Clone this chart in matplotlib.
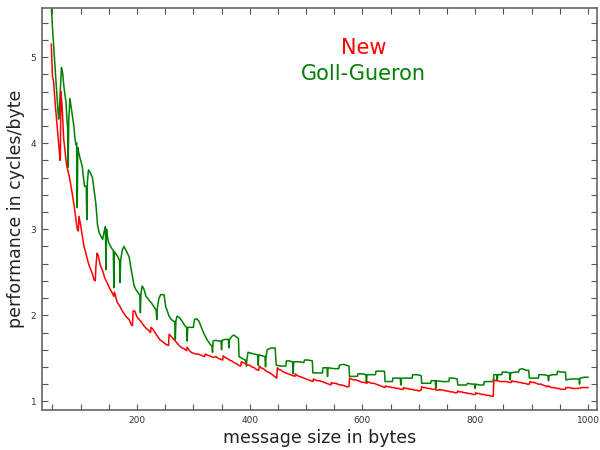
import matplotlib
matplotlib.use('Agg')
import matplotlib.pyplot as plt
from matplotlib.ticker import MultipleLocator

# (message size, cycles/byte)
new_pts = [
    (48, 5.15), (50, 4.78), (52, 4.72), (55, 4.45), (58, 4.22), (61, 4.00), (63, 3.85), (64, 3.80),
    (65, 4.60), (67, 4.45), (70, 4.05), (75, 3.75), (80, 3.61), (83, 3.50), (86, 3.38), (89, 3.25),
    (91, 3.15), (94, 3.00), (96, 2.98),
    (97, 3.15), (100, 3.05), (103, 2.92), (106, 2.80), (109, 2.73), (112, 2.65), (115, 2.58),
    (118, 2.53), (121, 2.48), (124, 2.41), (126, 2.40), (127, 2.55),
    (129, 2.72), (131, 2.70), (135, 2.58), (139, 2.52), (143, 2.43), (147, 2.38), (151, 2.32),
    (156, 2.26), (159, 2.22), (160, 2.27), (162, 2.22), (165, 2.15), (170, 2.10), (174, 2.05),
    (180, 1.99), (186, 1.95), (190, 1.89), (192, 1.88),
    (193, 2.05), (196, 2.05), (200, 1.98), (204, 1.95), (208, 1.92), (212, 1.88), (216, 1.85),
    (220, 1.83), (224, 1.80),
    (225, 1.86), (228, 1.84), (232, 1.80), (236, 1.76), (240, 1.72), (244, 1.70), (248, 1.68),
    (252, 1.66), (256, 1.65),
    (257, 1.78), (260, 1.76), (264, 1.73), (268, 1.70), (272, 1.67), (276, 1.64), (280, 1.62),
    (284, 1.61), (288, 1.59),
    (289, 1.63), (292, 1.60), (296, 1.57), (300, 1.56), (304, 1.55), (308, 1.55), (312, 1.54),
    (316, 1.53), (320, 1.52),
    (321, 1.55), (324, 1.54), (328, 1.53), (332, 1.52), (336, 1.51), (340, 1.52), (344, 1.50),
    (348, 1.49), (352, 1.48),
    (353, 1.53), (356, 1.51), (360, 1.50), (364, 1.48), (368, 1.47), (372, 1.45), (376, 1.44),
    (380, 1.42), (384, 1.41),
    (385, 1.46), (388, 1.45), (392, 1.44), (396, 1.42), (400, 1.42), (404, 1.40), (408, 1.39),
    (412, 1.37), (416, 1.36),
    (417, 1.41), (420, 1.39), (424, 1.38), (428, 1.36), (432, 1.34), (436, 1.33), (440, 1.31),
    (444, 1.29), (448, 1.27),
    (449, 1.39), (452, 1.37), (456, 1.36), (460, 1.34), (464, 1.33), (468, 1.32), (472, 1.31),
    (476, 1.30), (480, 1.29),
    (481, 1.32), (484, 1.30), (488, 1.29), (492, 1.28), (496, 1.27), (500, 1.26), (504, 1.25),
    (508, 1.24), (512, 1.23),
    (513, 1.26), (516, 1.25), (520, 1.24), (524, 1.24), (528, 1.23), (532, 1.22), (536, 1.21),
    (540, 1.20), (544, 1.19),
    (545, 1.22), (548, 1.21), (552, 1.21), (556, 1.20), (560, 1.19), (564, 1.19), (568, 1.18),
    (572, 1.17), (576, 1.17),
    (577, 1.27), (580, 1.26), (584, 1.25), (588, 1.25), (592, 1.24), (596, 1.23), (600, 1.22),
    (604, 1.22), (608, 1.21),
    (609, 1.23), (612, 1.22), (616, 1.21), (620, 1.21), (624, 1.20), (628, 1.19), (632, 1.18),
    (636, 1.17), (640, 1.16),
    (641, 1.18), (644, 1.17), (648, 1.17), (652, 1.16), (656, 1.16), (660, 1.15), (664, 1.15),
    (668, 1.14), (672, 1.14),
    (673, 1.16), (676, 1.15), (680, 1.15), (684, 1.14), (688, 1.14), (692, 1.13), (696, 1.13),
    (700, 1.12), (704, 1.13),
    (705, 1.17), (708, 1.16), (712, 1.16), (716, 1.15), (720, 1.15), (724, 1.14), (728, 1.14),
    (732, 1.13), (736, 1.13),
    (737, 1.14), (740, 1.13), (744, 1.13), (748, 1.12), (752, 1.12), (756, 1.11), (760, 1.11),
    (764, 1.10), (768, 1.10),
    (769, 1.12), (772, 1.11), (776, 1.11), (780, 1.10), (784, 1.10), (788, 1.09), (792, 1.09),
    (796, 1.08), (800, 1.08),
    (801, 1.10), (804, 1.09), (808, 1.09), (812, 1.08), (816, 1.08), (820, 1.07), (824, 1.07),
    (828, 1.06), (832, 1.06),
    (833, 1.25), (836, 1.24), (840, 1.24), (844, 1.23), (848, 1.23), (852, 1.23), (856, 1.23),
    (860, 1.22), (864, 1.22),
    (865, 1.24), (868, 1.23), (872, 1.23), (876, 1.22), (880, 1.22), (884, 1.21), (888, 1.21),
    (892, 1.20), (896, 1.20),
    (897, 1.23), (900, 1.22), (904, 1.22), (908, 1.21), (912, 1.20), (916, 1.20), (920, 1.19),
    (924, 1.18), (928, 1.17),
    (929, 1.18), (932, 1.17), (936, 1.16), (940, 1.16), (944, 1.15), (948, 1.15), (952, 1.14),
    (956, 1.14), (960, 1.14),
    (961, 1.16), (964, 1.16), (968, 1.16), (972, 1.15), (976, 1.15), (980, 1.15), (984, 1.15),
    (988, 1.16), (992, 1.16), (996, 1.16), (1000, 1.16),
]

gg_pts = [
    (48, 5.60), (50, 5.35), (53, 5.05), (56, 4.75), (59, 4.45), (61, 4.28), (62, 4.35), (64, 4.62),
    (66, 4.88), (68, 4.82), (71, 4.62), (74, 4.48), (76, 4.25), (77, 4.18), (78, 3.72), (79, 4.28),
    (81, 4.52), (84, 4.38), (88, 4.20), (90, 4.05), (92, 3.98), (93, 4.00), (94, 3.25), (95, 3.95),
    (97, 3.88), (100, 3.80), (103, 3.73), (105, 3.60), (107, 3.50), (110, 3.50), (111, 3.11),
    (112, 3.55), (114, 3.69), (117, 3.66), (121, 3.60), (124, 3.45), (127, 3.30), (130, 3.05),
    (133, 2.96), (136, 2.92), (139, 2.88), (142, 2.98), (144, 3.03), (145, 2.53), (146, 3.00),
    (148, 2.90), (150, 2.84), (155, 2.78), (158, 2.75), (159, 2.32), (160, 2.74), (162, 2.72),
    (166, 2.68), (169, 2.64), (170, 2.38), (171, 2.64), (174, 2.76), (177, 2.80), (180, 2.76),
    (183, 2.72), (186, 2.68), (189, 2.56), (192, 2.45), (195, 2.34), (198, 2.30), (202, 2.26),
    (205, 2.24), (206, 2.03), (207, 2.24), (209, 2.34), (212, 2.31), (216, 2.22), (221, 2.18),
    (226, 2.14), (230, 2.10), (234, 2.06), (235, 1.95), (236, 2.08), (239, 2.20), (242, 2.24),
    (248, 2.24), (251, 2.10), (257, 1.99), (261, 1.95), (265, 1.93), (267, 1.93), (268, 1.72),
    (269, 1.93), (271, 1.99), (276, 1.97), (280, 1.93), (286, 1.87), (288, 1.86), (289, 1.70),
    (290, 1.86), (295, 1.86), (300, 1.86), (302, 1.95), (306, 1.96), (310, 1.93), (313, 1.88),
    (316, 1.83), (320, 1.77), (324, 1.72), (329, 1.67), (333, 1.64), (334, 1.57), (335, 1.70),
    (340, 1.71), (345, 1.70), (349, 1.70), (350, 1.60), (351, 1.71), (357, 1.72), (362, 1.72),
    (363, 1.62), (364, 1.72), (369, 1.76), (372, 1.77), (376, 1.75), (380, 1.73), (381, 1.52),
    (386, 1.50), (392, 1.48), (394, 1.41), (395, 1.49), (397, 1.57), (402, 1.56), (408, 1.55),
    (414, 1.54), (415, 1.42), (416, 1.54), (422, 1.53), (427, 1.52), (428, 1.40), (429, 1.52),
    (431, 1.60), (438, 1.62), (445, 1.62), (447, 1.42), (455, 1.41), (464, 1.41), (465, 1.47),
    (470, 1.47), (476, 1.46), (477, 1.32), (478, 1.46), (488, 1.46), (496, 1.45), (497, 1.48),
    (504, 1.48), (511, 1.47), (512, 1.33), (520, 1.33), (529, 1.33), (530, 1.39), (537, 1.39),
    (538, 1.29), (539, 1.39), (550, 1.38), (558, 1.38), (559, 1.42), (566, 1.43), (576, 1.41),
    (577, 1.29), (585, 1.29), (591, 1.29), (592, 1.32), (600, 1.32), (606, 1.31), (607, 1.22),
    (608, 1.31), (616, 1.31), (623, 1.31), (624, 1.35), (631, 1.35), (639, 1.35), (640, 1.23),
    (647, 1.23), (653, 1.23), (654, 1.27), (662, 1.27), (667, 1.27), (668, 1.19), (669, 1.27),
    (680, 1.27), (688, 1.27), (689, 1.31), (696, 1.31), (704, 1.30), (705, 1.21), (713, 1.21),
    (721, 1.21), (722, 1.24), (729, 1.24), (730, 1.15), (731, 1.24), (742, 1.23), (753, 1.23),
    (754, 1.27), (761, 1.27), (768, 1.26), (769, 1.19), (778, 1.19), (785, 1.19), (786, 1.21),
    (794, 1.20), (799, 1.20), (800, 1.15), (801, 1.20), (808, 1.19), (815, 1.19), (816, 1.23),
    (824, 1.23), (832, 1.23), (833, 1.31), (838, 1.31), (839, 1.24), (840, 1.31), (847, 1.31),
    (848, 1.34), (855, 1.34), (861, 1.33), (862, 1.25), (863, 1.33), (870, 1.34), (877, 1.34),
    (878, 1.37), (884, 1.38), (890, 1.36), (895, 1.36), (896, 1.27), (904, 1.27), (912, 1.27),
    (913, 1.31), (920, 1.31), (929, 1.30), (930, 1.24), (931, 1.30), (938, 1.31), (945, 1.31),
    (946, 1.35), (953, 1.34), (960, 1.34), (961, 1.25), (970, 1.26), (978, 1.26), (984, 1.26),
    (985, 1.20), (986, 1.27), (993, 1.28), (1000, 1.28),
]

new_x, new_y = zip(*new_pts)
gg_x, gg_y = zip(*gg_pts)

fig = plt.figure(figsize=(6, 4.5), dpi=100)
ax = fig.add_axes([0.07, 0.089, 0.925, 0.893])

ax.plot(gg_x, gg_y, color=(0, 0.5, 0), lw=1.1)
ax.plot(new_x, new_y, color=(1, 0, 0), lw=1.1)

ax.set_xlim(31.5, 1016)
ax.set_ylim(0.9, 5.57)

ax.xaxis.set_major_locator(MultipleLocator(200))
ax.xaxis.set_minor_locator(MultipleLocator(50))
ax.yaxis.set_major_locator(MultipleLocator(1))
ax.yaxis.set_minor_locator(MultipleLocator(0.2))
ax.tick_params(which='both', direction='in', top=True, right=True,
               length=4, width=0.8, color='#555555')
ax.tick_params(labelsize=6.5, labelcolor='#333333', pad=4)
for s in ax.spines.values():
    s.set_color('#666666')
    s.set_linewidth(1.2)

ax.set_xlabel('message size in bytes', fontsize=12.5, color='#222222')
ax.set_ylabel('performance in cycles/byte', fontsize=12.5, color='#222222')
ax.xaxis.set_label_coords(0.5, -0.048)
ax.yaxis.set_label_coords(-0.03, 0.5)

fig.text(0.607, 0.893, 'New', color=(1, 0, 0), fontsize=15, ha='center', va='center')
fig.text(0.605, 0.836, 'Goll-Gueron', color=(0, 0.5, 0), fontsize=15, ha='center', va='center')

plt.savefig('out.png')
